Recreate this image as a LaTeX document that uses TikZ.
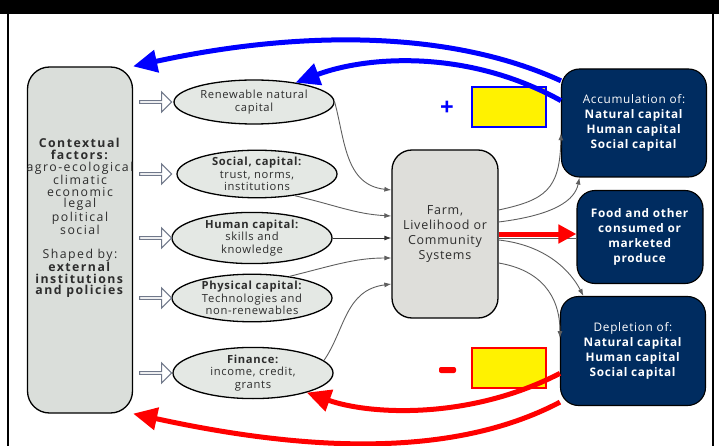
\documentclass[tikz,border=0pt]{standalone}
\usepackage{fontspec}
\setmainfont{Open Sans}
\newfontfamily\widefont[LetterSpace=6]{Open Sans}
\newfontfamily\widerfont[LetterSpace=12]{Open Sans}
\usetikzlibrary{shapes.geometric,shapes.arrows,arrows.meta}

\definecolor{navy}{RGB}{0,44,96}
\definecolor{boxgray}{RGB}{218,222,218}
\definecolor{ellgray}{RGB}{228,232,228}
\definecolor{farmgray}{RGB}{222,222,218}
\definecolor{txtgray}{RGB}{45,45,45}
\definecolor{arrgray}{RGB}{112,120,138}
\definecolor{flowgray}{RGB}{95,95,95}

\tikzset{
  ctxbox/.style={draw=black, line width=1.3pt, rounded corners=22pt, fill=boxgray,
    minimum width=105pt, minimum height=346pt},
  ctxtext/.style={align=center, text=txtgray, inner sep=0pt,
    font=\widerfont\fontsize{12.3}{11.8}\selectfont},
  capell/.style={ellipse, draw=black, line width=1.3pt, fill=ellgray, minimum width=160pt,
    minimum height=44pt, inner sep=0pt, align=center, text=txtgray,
    font=\widefont\fontsize{11.2}{12.5}\selectfont},
  farmbox/.style={draw=black, line width=1.3pt, rounded corners=20pt, fill=farmgray,
    minimum width=106pt, minimum height=168pt, align=center, text=txtgray,
    font=\widefont\fontsize{12.5}{15}\selectfont},
  navybox/.style={draw=black, line width=1.1pt, rounded corners=18pt, fill=navy, text=white,
    align=center, inner sep=0pt, font=\widefont\fontsize{11.8}{15}\selectfont},
  inarrow/.style={single arrow, draw=arrgray, fill=white, line width=1.1pt, minimum height=32pt,
    minimum width=20pt, single arrow head extend=3.5pt, inner sep=0pt},
  flow/.style={draw=flowgray, line width=0.9pt, -{Latex[length=7pt,width=5pt]}},
  signbox/.style={fill=yellow, line width=1.2pt, minimum width=74pt, minimum height=40pt},
  feedblue/.style={draw=blue, line width=5pt, -{Triangle[length=24pt,width=22pt]}},
  feedred/.style={draw=red, line width=5pt, -{Triangle[length=24pt,width=22pt]}}
}

\begin{document}
\begin{tikzpicture}[x=1pt,y=1pt]
\useasboundingbox (0,0) rectangle (719,-446);
% frame
\fill [black] (0,0) rectangle (719,-14);
\draw [black, line width=2pt] (8,-14) -- (8,-446);
\draw [black, line width=2pt] (713,-14) -- (713,-446);

% left column
\node [ctxbox] (ctx) at (80,-240) {};
\node [ctxtext] (ctxtext) at (80,-218) {\textbf{Contextual}\\ \textbf{factors:}\\ agro-ecological\\ climatic\\ economic\\ legal\\ political\\ social\\[11.7pt] Shaped by:\\ \textbf{external}\\ \textbf{institutions}\\ \textbf{and policies}};

% capitals
\node [capell] (renew) at (254,-102) {Renewable natural\\ capital};
\node [capell] (social) at (257,-174) {\textbf{Social, capital:}\\ trust, norms,\\ institutions};
\node [capell] (human) at (252,-238) {\textbf{Human capital:}\\ skills and\\ knowledge};
\node [capell] (physical) at (252,-298) {\textbf{Physical capital:}\\ Technologies and\\ non-renewables};
\node [capell] (finance) at (253,-373) {\textbf{Finance:}\\ income, credit,\\ grants};

\foreach \e/\y in {renew/102, social/174, human/238, physical/298, finance/373}
  \node [inarrow] (in\e) at (155,-\y) {};

% system
\node [farmbox] (farm) at (445,-234) {Farm,\\ Livelihood or\\ Community\\ Systems};

% outcomes
\node [navybox, minimum width=145pt, minimum height=108pt] (accum) at (634,-123) {Accumulation of:\\ \textbf{Natural capital}\\ \textbf{Human capital}\\ \textbf{Social capital}};
\node [navybox, minimum width=126pt, minimum height=93pt] (food) at (640,-237) {\textbf{Food and other}\\ \textbf{consumed or}\\ \textbf{marketed}\\ \textbf{produce}};
\node [navybox, minimum width=145pt, minimum height=109pt] (deplet) at (633,-351) {Depletion of:\\ \textbf{Natural capital}\\ \textbf{Human capital}\\ \textbf{Social capital}};

% plus and minus
\node [signbox, draw=blue] (gain) at (509,-107) {};
\node [signbox, draw=red] (loss) at (509,-368) {};
\node [text=blue, font=\fontsize{24}{24}\selectfont\bfseries] (plus) at (447,-108) {+};
\fill [red, rounded corners=2pt] (439,-367) rectangle (456,-373);
\coordinate (minus) at (447,-370);

% flows into the system
\draw [flow] (renew.east) .. controls (345,-140) and (345,-185) .. (farm.west |- 0,-190);
\draw [flow] (social.-30) .. controls (335,-205) and (355,-214) .. (farm.west |- 0,-216);
\draw [flow, draw=black!80] (human.east) -- (farm.west |- 0,-238);
\draw [flow] (physical.30) .. controls (335,-265) and (355,-258) .. (farm.west |- 0,-258);
\draw [flow] (finance.10) .. controls (345,-330) and (345,-290) .. (farm.west |- 0,-284);

% flows out of the system
\draw [flow] (farm.east |- 0,-210) .. controls (545,-200) and (560,-190) .. (accum.-172);
\draw [flow] (farm.east |- 0,-222) .. controls (555,-215) and (575,-200) .. (accum.-135);
\draw [flow] (farm.east |- 0,-240) .. controls (545,-245) and (570,-270) .. (deplet.132);
\draw [flow] (farm.east |- 0,-263) .. controls (540,-270) and (560,-295) .. (deplet.170);
\draw [draw=flowgray, line width=0.9pt] (farm.east |- 0,-238) -- (food.west |- 0,-238);
\draw [draw=red, line width=5pt, -{Triangle[length=18pt,width=18pt]}] (farm.east |- 0,-234) -- (food.west |- 0,-234);

% feedback
\draw [feedblue] (accum.150) .. controls (450,-30) and (300,-30) .. (ctx.north east);
\draw [feedblue] (accum.163) .. controls (470,-50) and (370,-55) .. (renew.25);
\draw [feedred] (deplet.-163) .. controls (470,-420) and (370,-415) .. (finance.-20);
\draw [feedred] (deplet.-145) .. controls (450,-460) and (300,-450) .. (ctx.south east);
\end{tikzpicture}
\end{document}
